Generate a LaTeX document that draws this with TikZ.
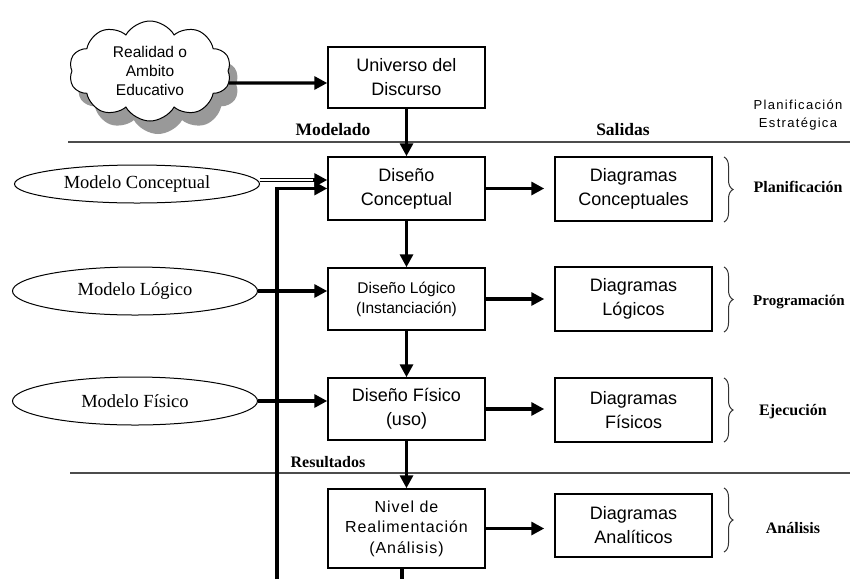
\documentclass[tikz,border=0pt]{standalone}
\usepackage{fontspec}
\setmainfont{Liberation Serif}
\newfontfamily\arialf{Liberation Sans}
\newfontfamily\arialsp[LetterSpace=6]{Liberation Sans}
\newfontfamily\arialss[LetterSpace=10]{Liberation Sans}
\usetikzlibrary{shapes.geometric,shapes.symbols,shadows,arrows.meta,decorations.pathreplacing}
\begin{document}
\begin{tikzpicture}[x=1pt,y=-1pt,
 box/.style={draw, line width=1.5pt, minimum width=157pt, minimum height=62pt, inner sep=0pt, align=center, font=\arialf\fontsize{18}{24}\selectfont},
 ell/.style={draw, ellipse, line width=1pt, inner sep=0pt, minimum width=245pt, font=\fontsize{18.5}{20}\selectfont},
 arr/.style={line width=3.2pt, -{Triangle[length=13pt,width=13pt]}},
 rule/.style={line width=1.6pt, draw=black!70},
 lab/.style={font=\bfseries\fontsize{17.5}{20}\selectfont},
 side/.style={inner sep=0pt, font=\bfseries\fontsize{16}{18}\selectfont},
 brc/.style={decorate, decoration={brace, amplitude=9pt}, line width=1pt, draw=black!80}
]
\useasboundingbox[fill=white] (0,0) rectangle (850,579);

% cloud
\node[cloud, cloud puffs=10, cloud puff arc=120, aspect=1.6, draw, line width=1pt, fill=white,
      minimum width=162pt, minimum height=100pt, inner sep=0pt,
      drop shadow={shadow xshift=8pt, shadow yshift=-13pt, fill=black!40, opacity=1},
      align=center, font=\arialf\fontsize{15.5}{19}\selectfont] (cloud) at (150,71) {Realidad o\\Ambito\\Educativo};

% main boxes
\node[box, minimum height=61pt] (univ) at (406.5,77.5) {Universo del\\Discurso};
\node[box, minimum height=63pt] (dc) at (406.5,188.5) {Diseño\\Conceptual};
\node[box, font=\arialf\fontsize{15.5}{20}\selectfont] (dl) at (406.5,299) {Diseño Lógico\\(Instanciación)};
\node[box] (df) at (406.5,409) {Diseño Físico\\(uso)};
\node[box, minimum height=79pt, font=\arialsp\fontsize{16}{20.5}\selectfont] (nv) at (406.5,528.5) {Nivel de\\Realimentación\\(Análisis)};

% output boxes
\node[box, minimum height=64pt] (gc) at (633.5,189) {Diagramas\\Conceptuales};
\node[box, minimum height=64pt] (gl) at (633.5,299) {Diagramas\\Lógicos};
\node[box, minimum height=64pt] (gf) at (633.5,410) {Diagramas\\Físicos};
\node[box, minimum height=63pt] (ga) at (633.5,525.5) {Diagramas\\Analíticos};

% ellipses
\node[ell, minimum height=38pt] (mc) at (137,184) {Modelo Conceptual};
\node[ell, minimum height=48pt] (ml) at (135,291) {Modelo Lógico};
\node[ell, minimum height=48pt] (mf) at (135,401) {Modelo Físico};

% rules
\coordinate (r1a) at (68,142); \coordinate (r1b) at (850,142);
\coordinate (r2a) at (70,473); \coordinate (r2b) at (850,473);
\draw[rule] (r1a) -- (r1b);
\draw[rule] (r2a) -- (r2b);

% labels
\node[lab] (mod) at (333,130) {Modelado};
\node[lab] (sal) at (623,130) {Salidas};
\node[lab, font=\bfseries\fontsize{16}{18}\selectfont] (res) at (328,462) {Resultados};
\node[align=center, inner sep=0pt, font=\arialss\fontsize{13}{18}\selectfont] (pe) at (798,115) {Planificación\\Estratégica};
\node[side] (pl) at (798,187) {Planificación};
\node[side, anchor=west, font=\bfseries\fontsize{15}{18}\selectfont] (pr) at (753,302) {Programación};
\node[side] (ej) at (793,412) {Ejecución};
\node[side] (an) at (793,528) {Análisis};

% braces
\draw[brc] (724,157) -- (724,222);
\draw[brc] (724,267) -- (724,332);
\draw[brc] (724,378) -- (724,442);
\draw[brc] (724,488) -- (724,552);

% arrows
\draw[arr] ([yshift=-12pt]cloud.east) -- ([yshift=-5.5pt]univ.west);
\draw[arr] (univ) -- (dc);
\draw[arr] (dc) -- (dl);
\draw[arr] (dl) -- (df);
\draw[arr] (df) -- (nv);

\draw[arr, shorten >=10pt] (dc.east) -- (dc.east -| gc.west);
\draw[arr, shorten >=10pt] (dl.east) -- (dl.east -| gl.west);
\draw[arr, shorten >=10pt] (df.east) -- (df.east -| gf.west);
\draw[arr, shorten >=10pt] (nv.east) -- (nv.east -| ga.west);

\draw[arr, line width=4.6pt] ([yshift=4pt]mc.east) -- ([yshift=8.5pt]dc.west);
\draw[white, line width=1.4pt, shorten >=14pt, shorten <=-1pt] ([yshift=4pt]mc.east) -- ([yshift=8.5pt]dc.west);
\draw[arr] (ml.east) -- (ml.east -| dl.west);
\draw[arr] (mf.east) -- (mf.east -| df.west);

% feedback
\coordinate (fb) at (277,579);
\coordinate (nb) at (402,579);
\draw[arr] (fb) |- (dc.west);
\draw[line width=3.2pt] (nv.south -| nb) -- (nb);
\end{tikzpicture}
\end{document}
